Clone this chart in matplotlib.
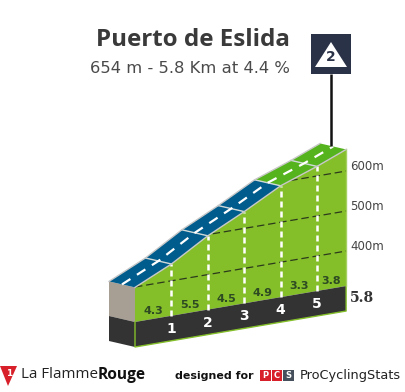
# Climb profile for Puerto de Eslida, drawn in a slanted km / altitude projection
import numpy as np
import matplotlib
matplotlib.use('Agg')
import matplotlib.pyplot as plt
from matplotlib.patches import Polygon, Rectangle

climb_name = 'Puerto de Eslida'
climb_info = '654 m - 5.8 Km at 4.4 %'
km = [0, 1, 2, 3, 4, 5, 5.8]
altitude = [399, 442, 497, 542, 591, 624, 654]
gradients = [4.3, 5.5, 4.5, 4.9, 3.3, 3.8]
road_colors = ['#005c8c', '#005c8c', '#005c8c', '#005c8c', '#55b41e', '#55b41e']
grid_altitudes = [400, 500, 600]
km_marks = [1, 2, 3, 4, 5]
category = '2'
total_km = '5.8'

BASE_ALT = 250
BAND_ALT = 312.5


def project(k, alt, depth=0.0):
    # km + altitude + road depth (0 near edge, 1 far edge) to image pixels
    k = np.asarray(k, dtype=float)
    alt = np.asarray(alt, dtype=float)
    depth = np.asarray(depth, dtype=float)
    x = 135 + 36.4 * k - 26 * depth
    y = 347 - 6.2 * k - 0.4 * (alt - BASE_ALT) - 6 * depth
    return x, y


def poly(xs, ys, **kw):
    p = Polygon(np.column_stack([xs, ys]), closed=True, **kw)
    ax.add_patch(p)
    return p


fig = plt.figure(figsize=(4.05, 3.92), dpi=100)
ax = fig.add_axes([0, 0, 1, 1])
ax.set_xlim(0, 405)
ax.set_ylim(392, 0)
ax.axis('off')

end = km[-1]

# left block
xl, yl = project([0, 0, 0, 0], [altitude[0], BAND_ALT, BAND_ALT, altitude[0]], [1, 1, 0, 0])
poly(xl, yl, fc='#a89f94', ec='none')
xl, yl = project([0, 0, 0, 0], [BAND_ALT, BASE_ALT, BASE_ALT, BAND_ALT], [1, 1, 0, 0])
poly(xl, yl, fc='#333333', ec='none')

# green face and dark band
fx, fy = project(km + [end, 0], altitude + [BAND_ALT, BAND_ALT])
face = poly(fx, fy, fc='#84bf2a', ec='none')
bx, by = project([0, end, end, 0], [BAND_ALT, BAND_ALT, BASE_ALT, BASE_ALT])
poly(bx, by, fc='#333333', ec='none')
lx, ly = project([0, 0, end, end], [BAND_ALT, BASE_ALT, BASE_ALT, BAND_ALT])
ax.plot(lx, ly, color='#84bf2a', lw=1)
rx, ry = project([end, end], [altitude[-1], BAND_ALT])
ax.plot(rx, ry, color='#a4cf62', lw=1)

# altitude lines, clipped to the face
for alt in grid_altitudes:
    gx, gy = project([0, end], [alt, alt])
    line, = ax.plot(gx, gy, color='#2c3a1c', lw=0.9, dashes=(6, 3))
    line.set_clip_path(face)
    tx, ty = project(end, alt)
    ax.text(tx + 4, ty - 5, f'{alt}m', color='#444444', fontsize=8.5,
            family='DejaVu Sans', va='center', ha='left')

# km marks
for m in km_marks:
    top = np.interp(m, km, altitude)
    vx, vy = project([m, m], [BAND_ALT, top])
    ax.plot(vx, vy, color='white', lw=1.8, dashes=(2.4, 1.6))
    tx, ty = project(m, 280)
    ax.text(tx, ty, str(m), color='white', fontsize=10, fontweight='bold',
            family='DejaVu Sans', ha='center', va='center')

# road surface
for i in range(len(gradients)):
    k0, k1 = km[i], km[i + 1]
    a0, a1 = altitude[i], altitude[i + 1]
    sx, sy = project([k0, k1, k1, k0], [a0, a1, a1, a0], [0, 0, 1, 1])
    poly(sx, sy, fc=road_colors[i], ec='none')
    sx, sy = project([k1, k1], [a1, a1], [0, 1])
    if k1 < end:
        ax.plot(sx, sy, color='#cfd8d8', lw=1)
    tx, ty = project((k0 + k1) / 2, 332)
    ax.text(tx, ty, f'{gradients[i]}', color='#2d4a22', fontsize=8, fontweight='bold',
            family='DejaVu Sans', ha='center', va='center')
ex, ey = project(km, altitude, 0)
ax.plot(ex, ey, color='#c8c8c8', lw=1)
ex, ey = project(km, altitude, 1)
ax.plot(ex, ey, color='#c8c8c8', lw=1)
ex, ey = project(km, altitude, 0.5)
ax.plot(ex, ey, color='white', lw=1.6, dashes=(4.5, 3.5))

tx, ty = project(end, BAND_ALT)
ax.text(tx + 4, ty + 12, total_km, color='#333333', fontsize=10, fontweight='bold',
        family='DejaVu Serif', ha='left', va='center')

# title
ax.text(193, 40, climb_name, color='#3a3a3a', fontsize=17.4, fontweight='bold',
        family='Open Sans', ha='center', va='center')
ax.text(190, 68, climb_info, color='#4a4a4a', fontsize=11.8,
        family='DejaVu Sans', ha='center', va='center')

# category sign with pole
ax.plot([331, 331], [74, 146], color='#111111', lw=1.8, solid_capstyle='butt')
ax.add_patch(Rectangle((311, 34), 40, 40, fc='#2a3247', ec='none'))
ax.add_patch(Polygon([[331, 42], [347, 67], [315, 67]], closed=True, fc='white', ec='none'))
ax.text(331, 57, category, color='#2a3247', fontsize=10, fontweight='bold',
        family='DejaVu Sans', ha='center', va='center')

# footer
ax.add_patch(Polygon([[0, 366], [17, 366], [8, 386]], closed=True, fc='#d8202a', ec='none'))
ax.text(9, 373, '1', color='white', fontsize=6.5, fontweight='bold',
        family='DejaVu Sans', ha='center', va='center')
ax.text(21, 375, 'La Flamme', color='#222222', fontsize=10.9, family='Open Sans',
        ha='left', va='center')
ax.text(97.5, 375, 'Rouge', color='#111111', fontsize=11.2, fontweight='bold',
        family='Open Sans', ha='left', va='center')
ax.text(175, 376, 'designed for', color='#111111', fontsize=7.9, fontweight='bold',
        family='DejaVu Sans', ha='left', va='center')
for i, (letter, col) in enumerate(zip('PCS', ['#d8202a', '#d8202a', '#46505c'])):
    ax.add_patch(Rectangle((260 + i * 11.5, 370), 10.5, 11, fc=col, ec='none'))
    ax.text(265.2 + i * 11.5, 375.5, letter, color='white', fontsize=6, fontweight='bold',
            family='DejaVu Sans', ha='center', va='center')
ax.text(300, 375, 'ProCyclingStats', color='#222222', fontsize=9.3,
        family='DejaVu Sans', ha='left', va='center')

fig.savefig('out.png', dpi=100)
